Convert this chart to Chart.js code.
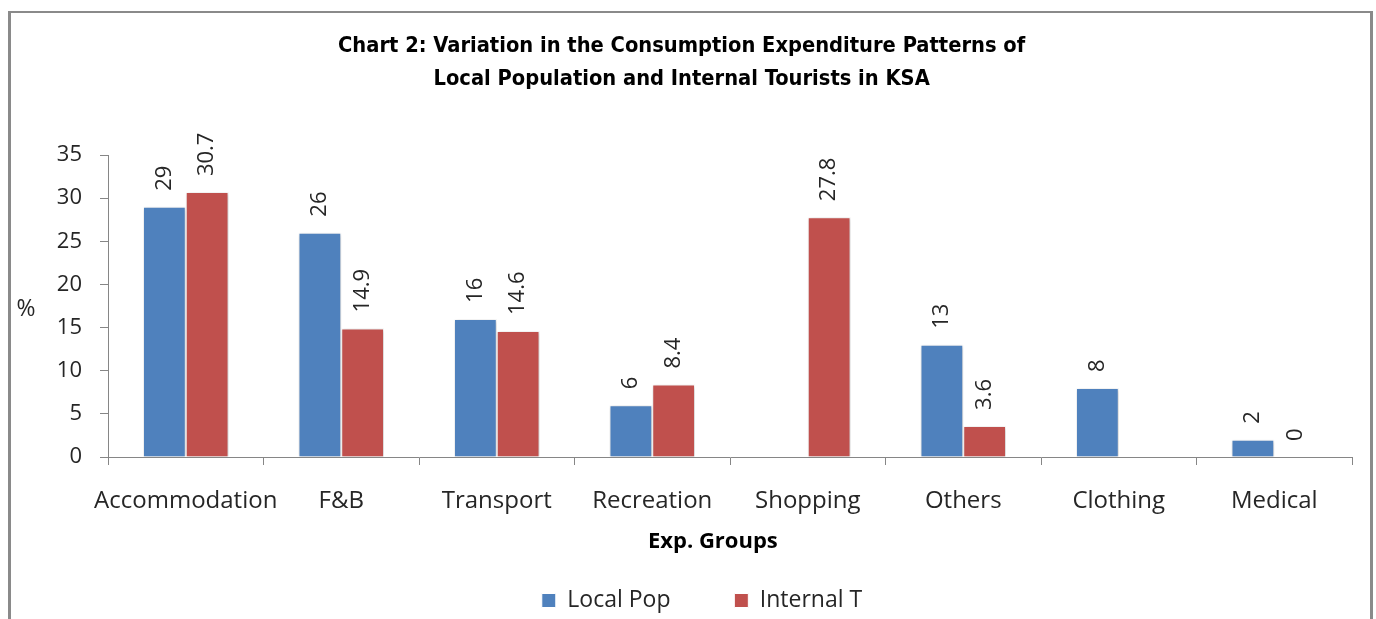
<!DOCTYPE html>
<html>
<head>
<meta charset="utf-8">
<script src="https://cdn.jsdelivr.net/npm/chart.js@4.4.1/dist/chart.umd.min.js"></script>
<style>
  html, body { margin: 0; padding: 0; background: #ffffff; }
  #wrap { position: relative; width: 1376px; height: 619px; overflow: hidden; }
  canvas { display: block; }
</style>
</head>
<body>
<div id="wrap"><canvas id="c" width="1376" height="619"></canvas></div>
<script>
const titleLines = ['Chart 2: Variation in the Consumption Expenditure Patterns of', 'Local Population and Internal Tourists in KSA'];
const categories = ['Accommodation', 'F&B', 'Transport', 'Recreation', 'Shopping', 'Others', 'Clothing', 'Medical'];
const seriesNames = ['Local Pop', 'Internal T'];
const localPop = [29, 26, 16, 6, null, 13, 8, 2];
const internalT = [30.7, 14.9, 14.6, 8.4, 27.8, 3.6, null, 0];
const yMin = 0, yMax = 35, yStep = 5;
const xTitle = 'Exp. Groups';
const yTitle = '%';

const TEXT = '#262626';
const AXIS = '#868686';
const SANS = "'Open Sans', 'DejaVu Sans', sans-serif";
const NARROW = "'Liberation Sans Narrow', 'DejaVu Sans Condensed', sans-serif";
const PAD6 = '      ';

const framePlugin = {
  id: 'frame',
  beforeDraw(chart) {
    const ctx = chart.ctx;
    ctx.save();
    ctx.fillStyle = '#ffffff';
    ctx.fillRect(0, 0, chart.width, chart.height);
    ctx.fillStyle = '#8a8a8a';
    ctx.fillRect(8, 11, 3, chart.height);
    ctx.fillRect(1370, 11, 3, chart.height);
    ctx.fillRect(8, 11, 1365, 2);
    ctx.restore();
  },
  afterDraw(chart) {
    const ctx = chart.ctx;
    ctx.save();
    ctx.fillStyle = TEXT;
    ctx.font = "23px " + SANS;
    ctx.textAlign = 'center';
    ctx.textBaseline = 'middle';
    ctx.fillText(yTitle, 26, 309);
    ctx.restore();
  }
};

const shadowPlugin = {
  id: 'barShadow',
  beforeDatasetsDraw(chart) {
    const ctx = chart.ctx;
    ctx.save();
    ctx.shadowColor = 'rgba(0,0,0,0.22)';
    ctx.shadowBlur = 4;
    ctx.shadowOffsetX = 1;
    ctx.shadowOffsetY = 1;
  },
  afterDatasetsDraw(chart) {
    chart.ctx.restore();
  }
};

const valueLabelPlugin = {
  id: 'valueLabels',
  afterDatasetsDraw(chart) {
    const ctx = chart.ctx;
    ctx.save();
    ctx.fillStyle = TEXT;
    ctx.font = "22px " + SANS;
    ctx.textAlign = 'left';
    ctx.textBaseline = 'middle';
    chart.data.datasets.forEach((ds, di) => {
      const meta = chart.getDatasetMeta(di);
      meta.data.forEach((el, i) => {
        const v = ds.data[i];
        if (v === null || v === undefined) return;
        ctx.save();
        ctx.translate(el.x, el.y - 16);
        ctx.rotate(-Math.PI / 2);
        ctx.fillText(String(v), 0, 0);
        ctx.restore();
      });
    });
    ctx.restore();
  }
};

new Chart(document.getElementById('c'), {
  type: 'bar',
  data: {
    labels: categories,
    datasets: [
      { label: seriesNames[0], data: localPop, backgroundColor: '#4F81BD', borderColor: '#ffffff', borderWidth: 1 },
      { label: seriesNames[1], data: internalT, backgroundColor: '#C0504D', borderColor: '#ffffff', borderWidth: 1 }
    ]
  },
  plugins: [framePlugin, shadowPlugin, valueLabelPlugin],
  options: {
    responsive: false,
    devicePixelRatio: 1,
    animation: false,
    layout: { padding: { left: 52, right: 24, top: 0, bottom: -3 } },
    datasets: { bar: { barPercentage: 1, categoryPercentage: 0.55 } },
    plugins: {
      tooltip: { enabled: false },
      title: {
        display: true,
        text: titleLines.map(t => t + PAD6),
        color: '#000000',
        font: { family: NARROW, size: 21.7, weight: 'bold', lineHeight: 33 / 21.7 },
        padding: { top: 29.5, bottom: 59.5 }
      },
      legend: {
        display: true,
        position: 'bottom',
        labels: {
          color: TEXT,
          font: { family: SANS, size: 23 },
          boxWidth: 14,
          boxHeight: 14,
          padding: 34,
          generateLabels(chart) {
            const items = Chart.defaults.plugins.legend.labels.generateLabels(chart);
            items.forEach((it, i) => { if (i === 0) it.text = it.text + '     '; });
            return items;
          }
        }
      }
    },
    scales: {
      x: {
        afterFit(s) { s.height = 98; },
        grid: { display: true, drawOnChartArea: false, drawTicks: true, tickLength: 8, color: AXIS, offset: true },
        border: { display: true, color: AXIS, width: 1 },
        ticks: { color: TEXT, font: { family: SANS, size: 24 }, padding: 22, maxRotation: 0, autoSkip: false },
        title: { display: true, text: xTitle + '      ', color: '#000000', font: { family: SANS, size: 22, weight: 'bold' }, padding: 0 }
      },
      y: {
        min: yMin,
        max: yMax,
        afterFit(s) { s.width = 56; },
        grid: { display: true, drawOnChartArea: false, drawTicks: true, tickLength: 8, color: AXIS },
        border: { display: true, color: AXIS, width: 1 },
        ticks: { stepSize: yStep, color: TEXT, font: { family: SANS, size: 22 }, padding: 18 }
      }
    }
  }
});
</script>
</body>
</html>
